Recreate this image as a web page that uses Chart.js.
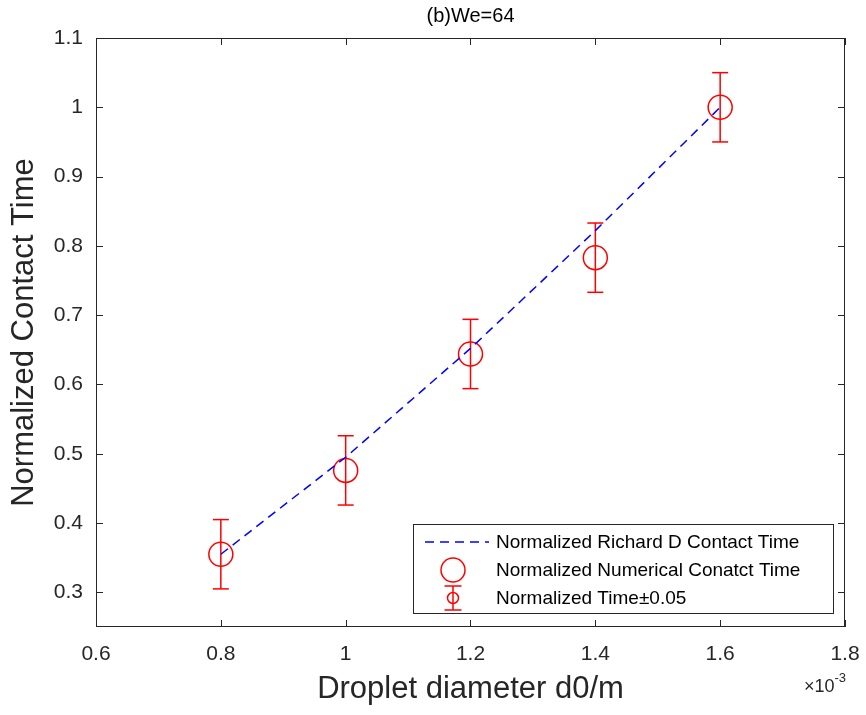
<!DOCTYPE html>
<html>
<head>
<meta charset="utf-8">
<script src="https://cdn.jsdelivr.net/npm/chart.js@4.4.0/dist/chart.umd.min.js"></script>
<style>
html, body { margin: 0; padding: 0; background: #fff; }
#wrap { width: 866px; height: 715px; position: relative; }
</style>
</head>
<body>
<div id="wrap"><canvas id="chart"></canvas></div>
<script>
// droplet diameter, in units of 10^-3 m
const diameters = [0.8, 1.0, 1.2, 1.4, 1.6];
const richardTime = [0.355, 0.495, 0.652, 0.822, 1.0];
const numericalTime = [0.355, 0.476, 0.644, 0.783, 1.0];
const timeError = [0.05, 0.05, 0.05, 0.05, 0.05];

const xTicks = [0.6, 0.8, 1, 1.2, 1.4, 1.6, 1.8];
const yTicks = [0.3, 0.4, 0.5, 0.6, 0.7, 0.8, 0.9, 1, 1.1];

const titleText = '(b)We=64';
const xLabel = 'Droplet diameter d0/m';
const yLabel = 'Normalized Contact Time';
const legendLabels = [
    'Normalized Richard D Contact Time',
    'Normalized Numerical Conatct Time',
    'Normalized Time\u00b10.05'
];

const FONT = "'Liberation Sans', Arial, Helvetica, sans-serif";
const AXIS = '#262626';
const RED = '#ff0000';
const BLUE = '#0000ff';

// error bar segments (null breaks the line) and caps
let barLines = [];
let barCaps = [];
diameters.forEach((d, i) => {
    let lo = numericalTime[i] - timeError[i];
    let hi = numericalTime[i] + timeError[i];
    barLines.push({ x: d, y: lo }, { x: d, y: hi }, { x: d, y: null });
    barCaps.push({ x: d, y: lo }, { x: d, y: hi });
});

const boxPlugin = {
    id: 'box',
    afterDatasetsDraw(chart) {
        const { ctx, chartArea: a, scales: { x, y } } = chart;
        ctx.save();
        ctx.strokeStyle = AXIS;
        ctx.lineWidth = 1;
        ctx.beginPath();
        xTicks.forEach(v => {
            let px = Math.round(x.getPixelForValue(v)) + 0.5;
            ctx.moveTo(px, a.bottom); ctx.lineTo(px, a.bottom - 7);
            ctx.moveTo(px, a.top); ctx.lineTo(px, a.top + 7);
        });
        yTicks.forEach(v => {
            let py = Math.round(y.getPixelForValue(v)) + 0.5;
            ctx.moveTo(a.left, py); ctx.lineTo(a.left + 7, py);
            ctx.moveTo(a.right, py); ctx.lineTo(a.right - 7, py);
        });
        ctx.stroke();
        ctx.strokeRect(Math.round(a.left) + 0.5, Math.round(a.top) + 0.5,
            Math.round(a.width) - 1, Math.round(a.height) - 1);

        // title over the axes
        ctx.fillStyle = '#000';
        ctx.font = '20px ' + FONT;
        ctx.textAlign = 'center';
        ctx.textBaseline = 'middle';
        ctx.fillText(titleText, (a.left + a.right) / 2, 16);

        // x exponent
        ctx.fillStyle = AXIS;
        ctx.textAlign = 'right';
        ctx.textBaseline = 'alphabetic';
        ctx.font = '13px ' + FONT;
        ctx.fillText('-3', a.right + 1, 682);
        let w = ctx.measureText('-3').width;
        ctx.font = '18px ' + FONT;
        ctx.fillText('\u00d710', a.right + 1 - w, 692);
        ctx.restore();
    }
};

const legendPlugin = {
    id: 'boxLegend',
    afterDraw(chart) {
        const { ctx } = chart;
        const L = 413, T = 524, R = 833, B = 613;
        const rows = [542, 570, 598];
        const sx = 453;
        ctx.save();
        ctx.fillStyle = '#fff';
        ctx.fillRect(L, T, R - L, B - T);
        ctx.strokeStyle = AXIS;
        ctx.lineWidth = 1;
        ctx.strokeRect(L + 0.5, T + 0.5, R - L, B - T);

        // dashed line
        ctx.strokeStyle = BLUE;
        ctx.lineWidth = 1.5;
        ctx.setLineDash([9, 6]);
        ctx.beginPath();
        ctx.moveTo(425, rows[0]); ctx.lineTo(489, rows[0]);
        ctx.stroke();
        ctx.setLineDash([]);

        // circle
        ctx.strokeStyle = RED;
        ctx.beginPath();
        ctx.arc(sx, rows[1], 12, 0, Math.PI * 2);
        ctx.stroke();

        // error bar symbol
        ctx.beginPath();
        ctx.moveTo(sx, rows[2] - 12); ctx.lineTo(sx, rows[2] + 12);
        ctx.moveTo(sx - 8.5, rows[2] - 12); ctx.lineTo(sx + 8.5, rows[2] - 12);
        ctx.moveTo(sx - 8.5, rows[2] + 12); ctx.lineTo(sx + 8.5, rows[2] + 12);
        ctx.stroke();
        ctx.beginPath();
        ctx.arc(sx, rows[2], 5.5, 0, Math.PI * 2);
        ctx.stroke();

        ctx.fillStyle = '#000';
        ctx.font = '19px ' + FONT;
        ctx.textAlign = 'left';
        ctx.textBaseline = 'middle';
        legendLabels.forEach((t, i) => ctx.fillText(t, 496, rows[i] + 1));
        ctx.restore();
    }
};

new Chart(document.getElementById('chart'), {
    type: 'scatter',
    data: {
        datasets: [
            {
                type: 'line',
                label: legendLabels[0],
                data: diameters.map((d, i) => ({ x: d, y: richardTime[i] })),
                borderColor: BLUE,
                borderWidth: 1.5,
                borderDash: [9, 6],
                pointRadius: 0,
                fill: false,
                order: 1
            },
            {
                label: legendLabels[1],
                data: diameters.map((d, i) => ({ x: d, y: numericalTime[i] })),
                pointStyle: 'circle',
                pointRadius: 12,
                borderColor: RED,
                backgroundColor: 'rgba(0,0,0,0)',
                borderWidth: 1.5,
                order: 2
            },
            {
                type: 'line',
                label: legendLabels[2],
                data: barLines,
                borderColor: RED,
                borderWidth: 1.5,
                pointRadius: 0,
                spanGaps: false,
                fill: false,
                order: 3
            },
            {
                label: 'caps',
                data: barCaps,
                pointStyle: 'line',
                pointRadius: 8,
                borderColor: RED,
                borderWidth: 1.5,
                order: 3
            }
        ]
    },
    options: {
        responsive: true,
        maintainAspectRatio: false,
        animation: false,
        events: [],
        layout: { padding: { top: 38, right: 21, bottom: 0, left: 0 } },
        plugins: {
            legend: { display: false },
            tooltip: { enabled: false },
            title: { display: false }
        },
        scales: {
            x: {
                type: 'linear',
                min: 0.6,
                max: 1.8,
                afterFit: s => { s.height = 88; s.paddingLeft = 0; s.paddingRight = 0; },
                afterBuildTicks: s => { s.ticks = xTicks.map(v => ({ value: v })); },
                grid: { display: false, drawTicks: false },
                border: { display: false },
                ticks: {
                    padding: 15,
                    color: AXIS,
                    font: { family: FONT, size: 21 },
                    maxRotation: 0,
                    callback: v => String(+v.toFixed(1))
                },
                title: {
                    display: true,
                    text: xLabel,
                    color: AXIS,
                    font: { family: FONT, size: 31 },
                    padding: { top: 0, bottom: 7 }
                }
            },
            y: {
                type: 'linear',
                min: 0.25,
                max: 1.1,
                afterFit: s => { s.width = 96; s.paddingTop = 0; s.paddingBottom = 0; },
                afterBuildTicks: s => { s.ticks = yTicks.map(v => ({ value: v })); },
                grid: { display: false, drawTicks: false },
                border: { display: false },
                ticks: {
                    padding: 13,
                    color: AXIS,
                    font: { family: FONT, size: 21 },
                    callback: v => String(+v.toFixed(1))
                },
                title: {
                    display: true,
                    text: yLabel,
                    color: AXIS,
                    font: { family: FONT, size: 31 },
                    padding: { top: 6, bottom: 0 }
                }
            }
        }
    },
    plugins: [boxPlugin, legendPlugin]
});
</script>
</body>
</html>
